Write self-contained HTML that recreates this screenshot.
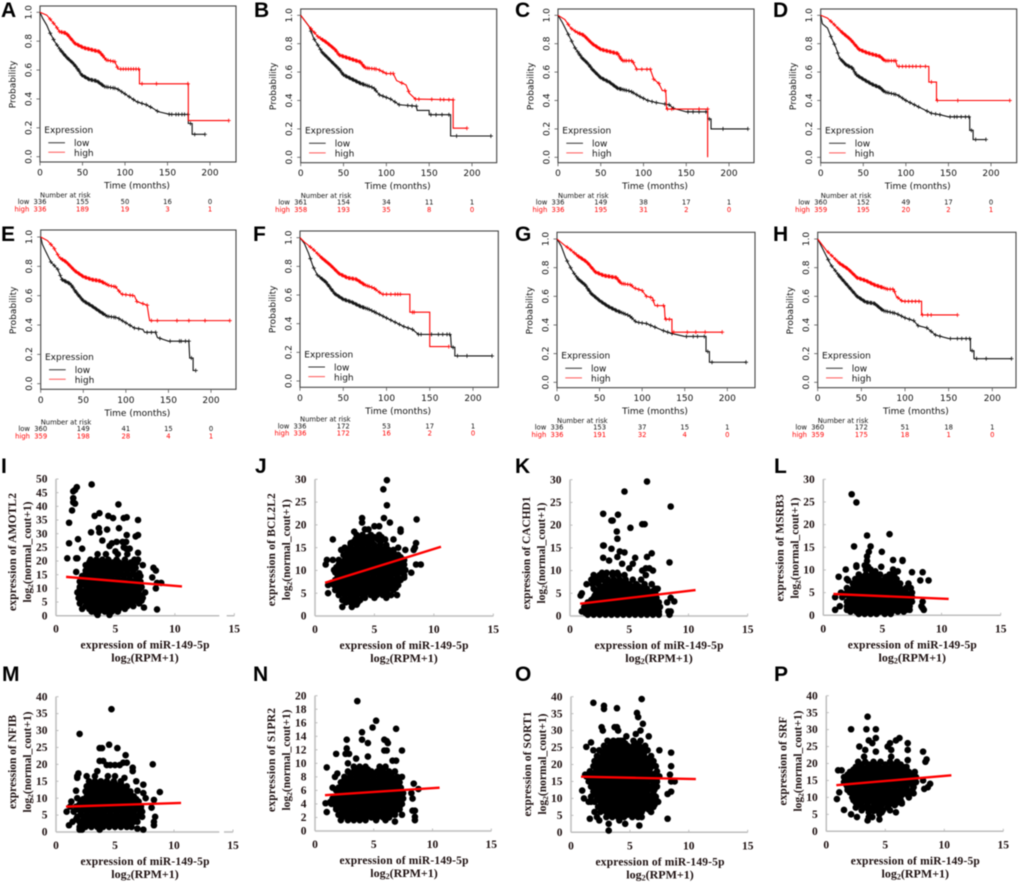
<!DOCTYPE html>
<html lang="en">
<head>
<meta charset="utf-8">
<title>Survival curves and miR-149-5p correlation panels</title>
<style>
html,body{margin:0;padding:0;background:#fff;}
#figure{display:block;width:1020px;height:883px;filter:blur(0.5px);}
.km{font-family:"DejaVu Sans","Liberation Sans",sans-serif;font-size:9px;fill:#111;}
.sc{font-family:"Liberation Serif",serif;font-weight:bold;fill:#1d1010;}
.letter{font-family:"Liberation Sans",sans-serif;font-weight:bold;font-size:21px;fill:#000;}
</style>
</head>
<body>
<svg id="figure" width="1020" height="883" viewBox="0 0 1020 883"></svg>
<script>
// ---------- Kaplan-Meier data: [month, survival probability] ----------
const lowA=[[0,1],[3,.96],[8,.91],[12,.855],[18,.79],[24,.74],[31,.69],[39,.647],[44,.61],[49,.566],[58,.535],[67,.524],[76,.485],[90,.473],[102,.427],[114,.38],[125,.36],[133,.335],[139,.312],[153,.293],[174.5,.293],[174.5,.23],[179,.23],[179,.155],[194,.155]];
const highA=[[0,1],[8,.98],[18,.91],[23,.866],[31,.855],[41,.785],[51,.755],[70,.727],[78,.67],[88,.658],[92,.607],[117,.607],[117,.505],[174.5,.505],[174.5,.25],[222,.25]];
const lowB=[[0,1],[5,.96],[10,.92],[15,.84],[25,.74],[35,.68],[45,.62],[50,.58],[60,.55],[70,.52],[85,.49],[92,.44],[105,.41],[115,.37],[135,.36],[136,.33],[150,.33],[150,.30],[175,.30],[175,.15],[222,.15]];
const highB=[[0,1],[10,.92],[20,.85],[30,.81],[40,.76],[45,.72],[60,.69],[70,.67],[75,.63],[90,.62],[100,.59],[108,.59],[112,.54],[123,.51],[127,.45],[134,.41],[178,.405],[178,.205],[194,.205]];
const lowC=[[0,1],[5,.95],[10,.89],[15,.83],[20,.77],[28,.70],[35,.66],[40,.62],[50,.56],[60,.53],[70,.485],[85,.465],[95,.43],[105,.40],[115,.385],[130,.37],[135,.345],[150,.32],[175,.32],[175,.27],[179,.27],[179,.20],[222,.20]];
const highC=[[0,1],[8,.97],[15,.91],[22,.88],[30,.86],[40,.80],[50,.76],[70,.73],[75,.68],[87,.68],[92,.62],[108,.62],[112,.55],[118,.52],[122,.47],[126,.47],[127,.34],[175,.34],[175,0]];
const lowD=[[0,1],[2,.94],[8,.91],[12,.85],[18,.77],[22,.70],[30,.65],[37,.63],[42,.58],[50,.55],[60,.515],[70,.49],[75,.46],[90,.44],[100,.40],[110,.37],[120,.34],[130,.31],[140,.30],[150,.285],[175,.285],[175,.19],[179,.19],[179,.125],[194,.125]];
const highD=[[0,1],[8,.98],[15,.94],[25,.88],[35,.83],[45,.76],[55,.735],[70,.71],[75,.68],[88,.68],[90,.64],[127,.64],[127,.53],[136,.53],[136,.40],[222,.40]];
const lowE=[[0,1],[2,.95],[6,.90],[12,.83],[20,.78],[25,.71],[35,.68],[42,.62],[50,.565],[60,.53],[70,.49],[78,.46],[90,.45],[100,.415],[110,.38],[120,.37],[122,.35],[135,.35],[137,.315],[150,.29],[174,.29],[175,.175],[179,.175],[179,.09],[182,.09]];
const highE=[[0,1],[8,.975],[15,.93],[22,.86],[30,.83],[40,.77],[50,.73],[60,.71],[70,.70],[80,.67],[88,.66],[95,.61],[110,.60],[113,.56],[125,.535],[127,.46],[128,.43],[222,.43]];
const lowF=[[0,1],[5,.96],[10,.89],[15,.80],[20,.74],[30,.69],[40,.61],[50,.57],[60,.55],[70,.52],[80,.50],[90,.47],[100,.44],[110,.41],[120,.38],[130,.36],[137,.325],[174,.325],[175,.235],[179,.235],[179,.175],[222,.175]];
const highF=[[0,1],[5,.97],[15,.92],[25,.86],[35,.81],[45,.75],[55,.72],[65,.71],[75,.67],[85,.65],[95,.605],[127,.605],[127,.48],[150,.48],[150,.24],[172,.24]];
const lowG=[[0,1],[5,.95],[10,.87],[15,.81],[20,.76],[25,.72],[33,.68],[40,.62],[50,.57],[60,.53],[70,.50],[85,.465],[93,.42],[105,.41],[115,.385],[125,.36],[135,.34],[150,.32],[175,.32],[175,.215],[179,.215],[179,.14],[222,.14]];
const highG=[[0,1],[8,.96],[15,.93],[25,.88],[35,.84],[45,.77],[55,.745],[70,.73],[75,.69],[87,.68],[90,.66],[100,.64],[105,.60],[112,.59],[115,.535],[126,.535],[127,.44],[135,.44],[135,.35],[194,.35]];
const lowH=[[0,1],[5,.94],[10,.88],[15,.82],[25,.74],[35,.67],[45,.60],[55,.56],[65,.55],[75,.50],[90,.48],[100,.45],[110,.43],[115,.395],[125,.38],[135,.33],[150,.305],[175,.305],[175,.22],[179,.22],[179,.165],[222,.165]];
const highH=[[0,1],[5,.96],[10,.92],[20,.86],[25,.83],[35,.79],[45,.73],[55,.71],[65,.68],[80,.65],[87,.65],[90,.60],[97,.565],[119,.565],[119,.47],[160,.47]];

// censoring months (shared early part, then panel-specific tails)
const earlyCensorMonths=[12,16,20,23,25,26,28,29,30,32,33,34,36,37,38,40,41,42,44,45,46,48,49,50,52,53,54,56,57,58,60,61,62,64,65,66,68,69,70,72,73,74,76,78,80,83,86,88];
const lowCensorA=[92,96,100,105,110,115,120,125,130,138,152,155,160,163,167,170,174,177,182,194];
const highCensorA=[91,95,98,101,104,107,110,113,116,120,137,174,222];
const lowCensorB=[92,96,100,105,110,115,125,130,135,152,158,165,173,182,222];
const highCensorB=[92,96,100,105,108,118,126,134,138,153,163,167,173,178,194];
const lowCensorC=[92,96,100,105,110,115,125,130,135,152,158,165,173,177,193,222];
const highCensorC=[92,98,104,108,112,118,125,128,133,165,175];
const lowCensorD=[92,96,100,105,110,115,125,130,135,140,152,157,160,165,170,174,177,182,194];
const highCensorD=[92,96,100,104,108,112,117,123,130,137,161,222];
const lowCensorE=[92,96,100,105,110,115,125,130,135,140,152,163,165,170,174,177,182];
const highCensorE=[92,96,100,105,108,113,120,125,130,137,160,174,193,222];
const lowCensorF=[92,96,100,105,110,115,120,125,130,137,140,152,160,165,170,173,177,182,193,222];
const highCensorF=[92,96,100,105,110,113,116,130,132,172];
const lowCensorG=[92,96,100,105,110,115,125,130,135,152,160,165,173,177,182,222];
const highCensorG=[92,96,100,105,110,113,118,125,128,132,137,153,163,174,194];
const lowCensorH=[92,96,100,105,110,115,125,130,135,140,152,160,165,170,174,177,182,193,222];
const highCensorH=[92,96,100,104,108,112,116,120,126,130,160];

// number at risk
const riskLowA=[336,155,50,16,0], riskHighA=[336,189,19,3,1];
const riskLowB=[361,154,34,11,1], riskHighB=[358,193,35,8,0];
const riskLowC=[336,149,38,17,1], riskHighC=[336,195,31,2,0];
const riskLowD=[360,152,49,17,0], riskHighD=[359,195,20,2,1];
const riskLowE=[360,149,41,15,0], riskHighE=[359,198,28,4,1];
const riskLowF=[336,172,53,17,1], riskHighF=[336,172,16,2,0];
const riskLowG=[336,153,37,15,1], riskHighG=[336,191,32,4,0];
const riskLowH=[360,172,51,18,1], riskHighH=[359,175,18,1,0];
const kmTimeTicks=[0,50,100,150,200];
const kmProbTicks=[0,0.2,0.4,0.6,0.8,1];

// ---------- Scatter data: each row = [y, x, x, x ...] ----------
const samplesI=[[48,3],[47,1.75],[46,1.6],[45.5,1.45],[43,1.45],[41.5,1.45],[41,1.6],[40.7,5.25],[38.5,1.35],[37.5,3.65],[36.5,3.25,4.4],[36,5.95],[35.7,4.8,5.7],[35,6.9],[34,1.1],[32,3.6,5.3],[31.5,4.3],[30.5,2.95,3.65],[29.5,5.95,6.9],[29,6.7],[28,1.85],[27.5,3.9],[27,5.1,5.6,5.9],[26.5,1.1,4.7],[25.5,4.5],[25,5.7],[24.5,2.2,5.9,6.2],[23.5,5],[23,6.9],[22.5,3.5,4.2,5.2,6],[21,0.95,1.7,1.8],[20.5,2.9,3.4,3.9,4.4,5.1,5.8,6.6,6.9],[18.5,2.5,3,3.5,4,4.5,5,5.5,6,6.5,7.3],[17.5,8.2],[16.5,2.5,3,3.5,4,4.5,5,5.5,6,6.5,8.4],[16,1.7],[14.5,2.2,2.7,3.2,3.7,4.2,4.7,5.2,5.7,6.2,6.7,7.1],[14,8.1],[12.5,2,2.5,3,3.5,4,4.5,5,5.5,6,6.5,7.1],[12,8.5,8.85],[10.5,2,2.6,3.1,3.6,4.1,4.6,5.1,5.6,6.1,6.6,7.2],[10,8.4],[8.5,1.8,2.3,2.8,3.3,3.8,4.3,4.8,5.3,5.8,6.3,6.8,7.5],[6.5,1.9,2.4,2.9,3.4,3.9,4.4,4.9,5.4,5.9,6.4,6.9,7.3],[4.5,2,2.6,3.1,3.6,4.1,4.6,5.1,5.6,6.1,7],[3.5,6.5],[3,7.4],[2.5,2.2,2.8,3.3,3.8,4.3,4.8,5.3,5.8],[2.3,8.5],[1,3.4,4.5],[0.3,3.5,4.5],
 [1.5,3,3.6,4.1,4.7,5.2],[3.5,2.5,3,3.5,4,4.5,5,5.5,6],[5.5,2.2,2.8,3.3,3.8,4.3,4.8,5.3,5.8,6.3,6.7,7.2],[7.5,2.1,2.6,3.1,3.6,4.1,4.6,5.1,5.6,6.1,6.6,7.1],[9.5,2,2.5,3,3.5,4,4.5,5,5.5,6,6.5,7],[11.5,2.3,2.8,3.3,3.8,4.3,4.8,5.3,5.8,6.3,6.8],[13.5,2.2,2.7,3.2,3.7,4.2,4.7,5.2,5.7,6.2,6.8],[15.5,2.5,3,3.5,4,4.5,5,5.5,6,6.5,7],[17.5,2.7,3.2,3.7,4.2,4.7,5.2,5.7,6.2,6.7],[19.5,2.8,3.3,3.8,4.3,4.8,5.3,5.8,6.3,6.8]];
const samplesJ=[[29.8,6.05],[27.8,5.75],[24.3,6.05],[21.5,3.96,5.8],[21.2,8.55],[20.5,3.96,6.3],[19.7,5,5.4],[19,4.2,4.5,7.2],[18.5,3.3,7.2],[17.8,3.5,4,4.7,5.4],[16.8,1.5,3.4,4.1,4.6,5.3,5.9,6.6],[16,3,8.5],[15.6,3,3.5,4,4.5,5,5.5,6],[15,7,8.4],[14.5,2.2,2.7,3.2,3.7,4.2,4.7,5.2,5.7,6.2,6.6,7.6,8.3],[13.4,2.4,2.9,3.4,3.9,4.4,4.9,5.4,5.9,6.4,7],[12.3,1,1.5,2,2.5,3,3.5,4,4.5,5,5.5,6,6.5,7,7.5],[11.3,0.9,2,2.5,3,3.5,4,4.5,5,5.5,6,6.5,7,7.5,8.5,8.9],[10.1,1.6,2.1,2.6,3.1,3.6,4.1,4.6,5.1,5.6,6.1,6.6,7.1,7.6],[9.5,8.1],[9,1.9,2.4,2.9,3.4,3.9,4.4,4.9,5.4,5.9,6.4,6.9,7.5],[7.9,1.7,2.2,2.7,3.2,3.7,4.2,4.7,5.2,5.7,6.2,6.7,7.2],[6.8,1.1,1.6,2.1,2.6,3.1,3.6,4.1,4.6,5.1,5.6,6.1,6.6,7],[5.7,1.7,2.1,2.6,3.1,3.6,4.1,4.6,5.1,5.6,6.1,6.6],[5,1.1],[4.6,2,2.5,3,3.5,4,4.7,5.2,5.7,6.4,6.9],[3.5,2.3,2.8,3.3,3.8],[2.5,3.2,3.5],[2,2.3,3.1],
 [3,2.6,3,3.6],[4,2.5,3,3.5,4.2,5,6],[5.1,2.3,2.8,3.3,3.8,4.3,4.9,5.4,6],[6.2,1.9,2.4,2.9,3.4,3.9,4.4,4.9,5.4,5.9,6.4,6.8],[7.3,1.4,1.9,2.4,2.9,3.4,3.9,4.4,4.9,5.4,5.9,6.4,6.9],[8.4,1.9,2.4,2.9,3.4,3.9,4.4,4.9,5.4,5.9,6.4,7,7.5],[9.6,1.7,2.2,2.7,3.2,3.7,4.2,4.7,5.2,5.7,6.2,6.7,7.3],[10.7,1.8,2.3,2.8,3.3,3.8,4.3,4.8,5.3,5.8,6.3,6.8,7.3],[11.8,2.3,2.8,3.3,3.8,4.3,4.8,5.3,5.8,6.3,6.8,7.3],[12.9,2.7,3.2,3.7,4.2,4.7,5.2,5.7,6.2,6.7,7.2],[14,2.7,3.1,3.6,4.1,4.6,5.1,5.6,6.1,6.6],[15,2.5,3,3.5,4,4.5,5,5.5,6],[16.2,3.2,3.8,4.3,4.8,5.5],[17.3,3.7,4.4,5,5.6]];
const samplesK=[[29.6,6.5],[27.4,4.6],[24.1,8.5],[22.5,2.8],[22.3,4.05],[21,3.5,3.6],[20.2,6.1,6.3],[19.4,5.1],[18.6,3.95],[17,4],[15.5,2.8,2.85],[14.8,3.5],[14.2,4.2],[14,4.6],[13.8,6.9],[13,4,6.5],[12.8,2.8,5.5],[12.2,3.3],[11.8,8.4],[11.5,4.4,5.3],[10.5,5,6.4,6.7],[10,6.1,7],[9.5,2.7,3.1,3.6,4],[9,2,2.5,3,3.6,4.1,4.6,6.4],[8,1.8,2.2,2.7,3.2,3.7,4.2,4.7,5.3,6],[7,1.4,1.9,2.4,3,3.6,4,4.5,5,5.6,6.3,6.9],[6,2,2.5,3,3.5,4,4.5,5,5.5,6,6.5,7.2,7.4],[5,1,2.2,2.7,3.2,3.7,4.2,4.7,5.2,5.7,6.2,6.7,7.2],[4.5,0.9],[4,2,2.5,3,3.5,4,4.5,5,5.5,6,6.5,7,7.3,8.5],[3.2,8.8],[3,1.5,2,2.5,3,3.5,4,4.5,5,5.5,6,6.5,7,7.5,8.2],[2,1.2,1.7,2.2,2.7,3.2,3.7,4.2,4.7,5.2,5.7,6.2,6.7,7.2,7.6],[1,1,1.5,2,2.5,3,3.5,4,4.5,5,5.5,6,6.5,7,7.5,8.3,8.5],[0.3,1.5,2,2.5,3,3.5,4,4.5,5,5.5,6,6.5,7,7.5,8.4],
 [0.7,1.3,1.8,2.3,2.8,3.3,3.8,4.3,4.8,5.3,5.8,6.3,6.8,7.3],[1.5,1.3,1.8,2.3,2.8,3.3,3.8,4.3,4.8,5.3,5.8,6.3,6.8,7.3],[2.5,1.5,2,2.5,3,3.5,4,4.5,5,5.5,6,6.5,7,7.4],[3.5,1.8,2.3,2.8,3.3,3.8,4.3,4.8,5.3,5.8,6.3,6.8,7.3],[4.5,2.1,2.6,3.1,3.6,4.1,4.6,5.1,5.6,6.1,6.6,7.1],[5.5,2.4,2.9,3.4,3.9,4.4,4.9,5.4,5.9,6.4,7],[6.5,2.8,3.3,3.8,4.3,4.8,5.3,5.8],[7.5,2.1,3,3.5,4.1,4.7]];
const samplesL=[[26.7,2.4],[24.9,2.8],[17.9,5.6],[17.6,3.7],[15.2,2.6,4],[14,3.85,4.95],[13,3.7],[12.2,5.9,6.7],[12,3.7,6.7],[11,2.8,3.5],[10.7,2.8,4.9,3.8],[10.1,1.9,3.6,4,5.9],[9.7,6.3,4.4],[9.5,7.5,8.4],[9,3,3.6,4.1,4.8,5.6,6],[8.5,1.3],[8,2,2.7,3.2,3.7,4.2,4.7,5.2,5.7,6.2],[7.7,2.1,8.2,8.9],[7,2.5,3,3.5,4,4.5,5,5.5,6,6.5,7.2],[6,2,2.5,3,3.5,4,4.5,5,5.5,6,6.5,7,7.4],[5,1.5,2,2.5,3,3.5,4,4.5,5,5.5,6,6.5,7,7.5],[4,1,1.6,2.2,2.7,3.2,3.7,4.2,4.7,5.2,5.7,6.2,6.7,7.2,7.5],[3,2,2.5,3,3.5,4,4.5,5,5.5,6,6.5,7,7.5,8.4],[2,1.4,2,2.5,3,3.5,4,4.5,5,5.5,6,6.5,7,7.3,8.3],[1.2,1,2,2.5,3,3.5,4,4.5,5,5.5,6,6.5,7,7.3,8.5],[0.3,3,3.5,4,4.5,5.2,5.7],
 [0.8,2.3,2.8,3.3,3.8,4.3,4.8,5.3,5.8,6.3,6.8],[1.6,2.3,2.8,3.3,3.8,4.3,4.8,5.3,5.8,6.3,6.8,8.4],[2.5,2.3,2.8,3.3,3.8,4.3,4.8,5.3,5.8,6.3,6.8,7.2],[3.5,2.3,2.8,3.3,3.8,4.3,4.8,5.3,5.8,6.3,6.8,7.3],[4.5,1.8,2.3,2.8,3.3,3.8,4.3,4.8,5.3,5.8,6.3,6.8,7.3],[5.5,2.3,2.8,3.3,3.8,4.3,4.8,5.3,5.8,6.3,6.8],[6.5,2.8,3.3,3.8,4.3,4.8,5.3,5.8,6.3],[7.5,3,3.5,4,4.5,5,5.5],[8.5,3.3,3.9,4.5,5.3,5.8]];
const samplesM=[[36.3,4.7],[29,2],[25.8,4.5],[24.8,3.7,3.9,5.2],[22.7,5.9],[21,3.7,4],[20.5,5.7,6],[20,8.2],[19.8,4.3,4.6,5,5.4],[19,6.5],[18,3.5,6.5],[17.3,1.9],[16.5,1.8,2.6,3.3,4.4,5],[16,1.8,5.8],[15,2.8,3.3,3.8,4.3,4.9,5.5,6.8],[14,7.4],[13.5,2.6,3.1,3.6,4.1,4.6,5.1,5.6,6],[12.2,1.7,6.9],[12,2.5,3,3.5,4,4.5,5,5.5,6,6.3],[11.8,8.8],[11.5,7.4],[10.5,2.6,3.1,3.6,4.1,4.6,5.1,5.6,6.1,6.6],[10,1.8,7.6],[9.5,8.3],[9,1.3,2.1,2.6,3.1,3.6,4.1,4.6,5.1,5.6,6.1,6.6,7],[7.5,1.2,1.7,2.3,2.8,3.3,3.8,4.3,4.8,5.3,5.8,6.3,6.8,7.2],[7.2,8.1],[6,0.9,1.5,2.1,2.6,3.1,3.6,4.1,4.6,5.1,5.6,6.1,6.6,7.3],[4.5,1.8,2.4,2.9,3.4,3.9,4.4,4.9,5.4,5.9,6.4,6.9,7.3,8.4],[3,1.4,2,2.6,3.1,3.6,4.1,4.6,5.1,5.6,6.1,6.6,6.9,8.3],[2,1.1,8.3],[1.5,2,2.5,3,3.5,4,4.5,5,5.5,6,6.4],[1,6.9],[0.7,2,2.2,3.7,7.4],
 [2.2,2.3,2.8,3.3,3.8,4.3,4.8,5.3,5.8,6.3],[3.7,1.7,2.3,2.8,3.3,3.8,4.3,4.8,5.3,5.8,6.3,6.8],[5.2,2.1,2.6,3.1,3.6,4.1,4.6,5.1,5.6,6.1,6.6,7.1],[6.7,1.8,2.3,2.8,3.3,3.8,4.3,4.8,5.3,5.8,6.3,6.8,7.2],[8.2,2,2.5,3,3.5,4,4.5,5,5.5,6,6.5,7],[9.7,2.3,2.8,3.3,3.8,4.3,4.8,5.3,5.8,6.3,6.8],[11.2,2.8,3.3,3.8,4.3,4.8,5.3,5.8,6.3],[12.7,2.8,3.3,3.8,4.3,4.8,5.3,5.8],[14.2,2.9,3.5,4,4.5,5,5.5]];
const samplesN=[[19.2,3.6],[16.3,5.2],[15.3,4.9],[15.1,6.9],[14.6,4],[13.5,2.7,4,5.9],[13.3,6.1],[13,4.5,6.2],[12.2,2.7],[11.9,5.9,6.1,7.4],[11.4,1.8,2.6,2.9],[11,4.5],[10.7,3.5],[10.4,6.6,6.9],[10,2.8],[9.5,3.3,3.8,4.3,5.5,6],[9.4,1],[8.8,2.8,3.3,3.8,4.3,4.8,5.3,5.8,6.3,6.8],[8.5,1.9],[8,1.7,2.5,3,3.5,4,4.5,5,5.5,6,6.5,7,7.4],[7.2,2.2,2.7,3.2,3.7,4.2,4.7,5.2,5.7,6.2,6.7,7.2],[7,8.4],[6.4,1.5,2,2.5,3,3.5,4,4.5,5,5.5,6,6.5,7,7.3],[6.2,8.8],[5.6,2.1,2.6,3.1,3.6,4.1,4.6,5.1,5.6,6.1,6.6,7.1,7.5,8.2],[4.8,1.5,2.1,2.6,3.1,3.6,4.1,4.6,5.1,5.6,6.1,6.6,7.1,7.5,8.3],[4.3,1.3],[4.1,0.9],[4,1.4,2,2.5,3,3.5,4,4.5,5,5.5,6,6.5,7,7.4],[3.2,1.8,2.3,2.8,3.3,3.8,4.3,4.8,5.3,5.8,6.3,6.8,7.2],[3,8.3,8.5],[2.8,1],[2.4,2,2.5,3,3.5,4,4.5,5,5.5,6,6.4,6.8,7.4],[2.1,8.5],[1.6,2.2,2.8,3.3,3.8,4.3,5.2,6,8.5],[1.4,6.8],
 [2,2.3,2.8,3.3,3.8,4.3,4.8,5.3,5.8,6.3],[2.8,2.3,2.8,3.3,3.8,4.3,4.8,5.3,5.8,6.3,6.8],[3.6,1.8,2.3,2.8,3.3,3.8,4.3,4.8,5.3,5.8,6.3,6.8,7.2],[4.4,1.8,2.3,2.8,3.3,3.8,4.3,4.8,5.3,5.8,6.3,6.8,7.3],[5.2,1.9,2.4,2.9,3.4,3.9,4.4,4.9,5.4,5.9,6.4,6.9,7.4],[6,1.8,2.3,2.8,3.3,3.8,4.3,4.8,5.3,5.8,6.3,6.8,7.3],[6.8,2.3,2.8,3.3,3.8,4.3,4.8,5.3,5.8,6.3,6.8],[7.6,2.5,3,3.5,4,4.5,5,5.5,6,6.5,7],[8.4,3,3.5,4,4.5,5,5.5,6,6.5],[9.1,3.5,4,4.5,5.7]];
const samplesO=[[39.3,6],[38.2,1.9],[37.3,2.8],[36.6,3.9],[36.4,2.8],[35.2,5.6],[34,5.7],[32,6.1],[31,2.6,3.7,3.9],[30,2.7,4,5.9],[29,5.5],[28.3,4.7,6.6],[27,3.1,3.6,4,4.2,4.4,5.3,5.9],[26.5,1.7],[25.5,2.8,3.3,3.8,4.3,4.8,5.3,5.8,6.3],[25.2,1.3],[24.2,1.9,2.4,2.9,3.4,3.9,4.4,4.9,5.4,5.9,6.5,7.5],[23.5,8.5],[22.5,2.2,2.7,3.2,3.7,4.2,4.7,5.2,5.7,6.2,6.8],[21,2,2.5,3,3.5,4,4.5,5,5.5,6,6.5,7],[19.5,1.9,2.4,2.9,3.4,3.9,4.4,4.9,5.4,5.9,6.4,6.9,7.2,8.5],[18,1.6,2.1,2.6,3.1,3.6,4.1,4.6,5.1,5.6,6.1,6.6,7.3],[17,1.2,1.4,8.4],[16.5,1.3,1.8,2.3,2.8,3.3,3.8,4.3,4.8,5.3,5.8,6.3,6.8,7.5],[15,1.5,2,2.5,3,3.5,4,4.5,5,5.5,6,6.5,7,7.3,8.5,8.8],[13.5,1.7,2.2,2.7,3.2,3.7,4.2,4.7,5.2,5.7,6.2,6.7,7.3],[12.3,0.95],[12,1.9,2.4,2.9,3.4,3.9,4.4,4.9,5.4,5.9,6.4,7,8.5],[11.3,8.2],[10.5,1.7,2.3,2.8,3.3,3.8,4.3,4.8,5.3,5.8,6.3,6.8,7.2],[10,1.1],[9,1.5,1.7,2,2.5,3,3.5,4,4.5,5,5.5,6,6.5,7,7.4],[7.5,2.3,2.8,3.3,3.8,4.3,4.8,5.3,5.8,6.3,7],[6,2,2.5,3,3.5,4,4.5,5,5.5,6,6.8],[4.5,2.2,3,3.5,4,4.5,5.2,5.7,6],[4,1.6,8.2],[3.5,2.4,4.1],[2.5,3.2,4.6],[2,5.8],[0.5,3.2],
 [5.2,3.2,3.8,4.3,4.8,5.4,5.9],[6.7,2.6,3.1,3.6,4.1,4.6,5.1,5.6,6.1,6.6],[8.2,2.6,3.1,3.6,4.1,4.6,5.1,5.6,6.1,6.6,7.1],[9.7,2.2,2.7,3.2,3.7,4.2,4.7,5.2,5.7,6.2,6.7,7.2],[11.2,2,2.5,3,3.5,4,4.5,5,5.5,6,6.5,7],[12.7,2.1,2.6,3.1,3.6,4.1,4.6,5.1,5.6,6.1,6.6,7.1],[14.2,1.9,2.4,2.9,3.4,3.9,4.4,4.9,5.4,5.9,6.4,7],[15.7,1.7,2.2,2.7,3.2,3.7,4.2,4.7,5.2,5.7,6.2,6.7,7.2],[17.2,2,2.5,3,3.5,4,4.5,5,5.5,6,6.5,7],[18.7,2.2,2.7,3.2,3.7,4.2,4.7,5.2,5.7,6.2,6.7],[20.2,2.2,2.7,3.2,3.7,4.2,4.7,5.2,5.7,6.2,6.7],[21.7,2.5,3,3.5,4,4.5,5,5.5,6,6.5],[23.2,2.7,3.2,3.7,4.2,4.7,5.2,5.7,6.2],[24.7,3.1,3.6,4.1,4.6,5.1,5.6,6.1],[26.2,3.5,4,4.6,5.5]];
const samplesP=[[33.8,3.5],[30.1,2.1,3.4,4.2],[27.5,4.2,6.2],[26.8,3.6,5.9],[26,3.9,5.4,6.9],[25,2.8,5.2],[24,3.3,5.5,6.9],[23.5,4.2,8.2],[22,3.2,5.5],[21.2,8.5],[21,6.9],[20.5,2.7,3.3,4,4.6,5.4,6,8.4],[19,2.5,3,3.5,4,4.5,5,5.5,6,6.5,6.8],[18,1,1.3],[17.5,2,2.5,3,3.5,4,4.5,5,5.5,6,6.5,7,7.5],[16,1.5,2.1,2.6,3.1,3.6,4.1,4.6,5.1,5.6,6.1,6.6,7.1,7.6],[15,8.2],[14.5,1.5,2,2.5,3,3.5,4,4.5,5,5.5,6,6.5,7,7.6],[14,8.8],[13,1.8,2.3,2.8,3.3,3.8,4.3,4.8,5.3,5.8,6.3,6.8,7.4,8.6],[12.5,8.3],[11.5,1.1,2,2.5,3,3.5,4,4.5,5,5.5,6,6.5,7.2],[11.2,7.4],[10,2.2,2.7,3.2,3.7,4.2,4.7,5.2,5.7,6.2,7],[9.5,0.9],[8.5,2.5,3,3.5,4,4.5,5,5.5,6,6.4],[8.2,6.4],[7,2.5,3.3,3.9,4.5,5.2],[6.3,1.5],[6,4],[5.6,3.6,4.7,5.9],[5,2.1,4.5],[4.2,2.6,3.6,3.9],[3.5,4.5],[3.2,3.5],
 [6.2,3,3.6,4.2,4.8,5.4],[7.7,2.9,3.5,4.1,4.7,5.3,5.8],[9.2,2.3,2.8,3.3,3.8,4.3,4.8,5.3,5.8,6.3],[10.7,2.4,2.9,3.4,3.9,4.4,4.9,5.4,5.9,6.4,6.9],[12.2,1.8,2.3,2.8,3.3,3.8,4.3,4.8,5.3,5.8,6.3,6.8,7.3],[13.7,1.7,2.2,2.7,3.2,3.7,4.2,4.7,5.2,5.7,6.2,6.7,7.3],[15.2,1.8,2.3,2.8,3.3,3.8,4.3,4.8,5.3,5.8,6.3,6.8,7.3],[16.7,1.8,2.3,2.8,3.3,3.8,4.3,4.8,5.3,5.8,6.3,6.8,7.3],[18.2,2.3,2.8,3.3,3.8,4.3,4.8,5.3,5.8,6.3,6.8],[19.7,3,3.6,4.3,5,5.6,6.3]];

// trend lines: [x, y] at both ends
const trendI=[[0.85,14.2],[10.6,10.7]];
const trendJ=[[0.85,7.3],[10.6,15.2]];
const trendK=[[0.85,2.7],[10.6,5.7]];
const trendL=[[0.85,4.7],[10.6,3.6]];
const trendM=[[0.85,7.5],[10.6,8.6]];
const trendN=[[0.85,5.3],[10.6,6.4]];
const trendO=[[0.85,16.4],[10.6,15.7]];
const trendP=[[0.85,13.6],[10.6,16.5]];

const scatterXTicks=[0,5,10,15];
const ticks50=[0,5,10,15,20,25,30,35,40,45,50];
const ticks40=[0,5,10,15,20,25,30,35,40];
const ticks30=[0,5,10,15,20,25,30];
const ticks20=[0,2,4,6,8,10,12,14,16,18,20];

// ---------- layout ----------
const root=document.getElementById('figure');
const NS=root.namespaceURI;
function make(tag,parent,attrs,text){
  const el=document.createElementNS(NS,tag);
  for(const k in attrs){el.setAttribute(k,attrs[k]);}
  if(text!==undefined){el.textContent=text;}
  parent.appendChild(el);
  return el;
}
function panelLetter(ch,x,y){
  const t=make('text',root,{x:x,y:y,'class':'letter'},ch);
  
  
}
function curveAt(curve,m){
  for(let i=1;i<curve.length;i++){
    const a=curve[i-1],b=curve[i];
    if(m<=b[0]){
      if(b[0]===a[0]){return a[1];}
      return a[1]+(b[1]-a[1])*(m-a[0])/(b[0]-a[0]);
    }
  }
  return null;
}
function drawCurve(g,curve,censor,color,xs,ys,key){
  const path=make('path',g,{d:curve.map((p,i)=>(i?'L':'M')+xs(p[0]).toFixed(2)+' '+ys(p[1]).toFixed(2)).join(''),fill:'none',stroke:color,'stroke-width':1.1});
  
  
  censor.forEach(function(m){
    const s=curveAt(curve,m);
    if(s===null){return;}
    const cx=xs(m),cy=ys(s);
    const mark=make('path',g,{d:'M'+(cx-2)+' '+cy+'h4M'+cx+' '+(cy-2)+'v4',stroke:color,'stroke-width':0.9,opacity:0.9});
    
    
  });
}
function drawKM(id,f,low,high,lowCensor,highCensor,riskLow,riskHigh){
  const g=make('g',root,{'class':'km'});
  
  
  const xs=m=>f.left+m*(f.x200-f.left)/200;
  const ys=p=>f.y0-p*(f.y0-f.y1);
  const box=make('rect',g,{x:f.left,y:f.top,width:f.right-f.left,height:f.bottom-f.top,fill:'none',stroke:'#444','stroke-width':1.1});
  
  
  kmTimeTicks.forEach(function(v){
    const tk=make('line',g,{x1:xs(v),x2:xs(v),y1:f.bottom,y2:f.bottom+3.5,stroke:'#555','stroke-width':0.8});
    
    
    const lb=make('text',g,{x:xs(v),y:f.bottom+13.5,'text-anchor':'middle'},String(v));
    
    
  });
  kmProbTicks.forEach(function(v){
    const tk=make('line',g,{x1:f.left-3.5,x2:f.left,y1:ys(v),y2:ys(v),stroke:'#555','stroke-width':0.8});
    
    
    const lb=make('text',g,{transform:'translate('+(f.left-8.7)+' '+ys(v)+') rotate(-90)','text-anchor':'middle'},v.toFixed(1));
    
    
  });
  const yt=make('text',g,{transform:'translate('+(f.left-24.7)+' '+((f.y0+f.y1)/2)+') rotate(-90)','text-anchor':'middle'},'Probability');
  
  
  const xt=make('text',g,{x:(f.left+f.right)/2-1,y:f.bottom+26.5,'text-anchor':'middle'},'Time (months)');
  
  
  drawCurve(g,low,earlyCensorMonths.concat(lowCensor),'#111',xs,ys,'low');
  drawCurve(g,high,earlyCensorMonths.concat(highCensor),'#f00',xs,ys,'high');
  // legend
  const lx=f.left+4.3,ly=f.y0;
  const lt=make('text',g,{x:lx,y:ly-23.7},'Expression');
  
  
  const l1=make('line',g,{x1:f.left+8.3,x2:f.left+25,y1:ly-14,y2:ly-14,stroke:'#333','stroke-width':1});
  
  
  const l2=make('line',g,{x1:f.left+8.3,x2:f.left+25,y1:ly-4.4,y2:ly-4.4,stroke:'#f55','stroke-width':1});
  
  
  const t1=make('text',g,{x:f.left+34,y:ly-10.7},'low');
  
  
  const t2=make('text',g,{x:f.left+34,y:ly-0.7},'high');
  
  
  // risk table
  const hd=make('text',g,{x:f.left,y:f.y0+40.6,'font-size':6.8},'Number at risk');
  
  
  const rl=make('text',g,{x:f.left-10.7,y:f.y0+47.3,'font-size':6.8,'text-anchor':'end'},'low');
  
  
  const rh=make('text',g,{x:f.left-10.7,y:f.y0+54.6,'font-size':6.8,'text-anchor':'end',style:'fill:#f00'},'high');
  
  
  kmTimeTicks.forEach(function(v,i){
    const a=make('text',g,{x:xs(v),y:f.y0+47.3,'font-size':6.8,'text-anchor':'middle'},String(riskLow[i]));
    
    
    const b=make('text',g,{x:xs(v),y:f.y0+54.6,'font-size':6.8,'text-anchor':'middle',style:'fill:#f00'},String(riskHigh[i]));
    
    
  });
}
function drawScatter(id,f,gene,samples,trend,yTicks,yLen){
  const g=make('g',root,{'class':'sc'});
  
  
  const yMax=yTicks[yTicks.length-1];
  const xs=v=>f.x0+v*(f.x15-f.x0)/15;
  const ys=v=>f.y0-v*(f.y0-f.yTop)/yMax;
  const yAxis=make('line',g,{x1:f.x0,x2:f.x0,y1:f.yTop,y2:f.y0,stroke:'#bdbdbd','stroke-width':1.5});
  
  
  const xAxis=make('line',g,{x1:f.x0,x2:f.x15,y1:f.y0,y2:f.y0,stroke:'#bdbdbd','stroke-width':1.5});
  
  
  if(f.gap){
    const br=make('rect',g,{x:f.gap[0],y:f.y0-2,width:f.gap[1]-f.gap[0],height:4,fill:'#fff'});
    
    
  }
  scatterXTicks.forEach(function(v){
    const tk=make('line',g,{x1:xs(v),x2:xs(v),y1:f.y0-2.5,y2:f.y0,stroke:'#bdbdbd','stroke-width':1});
    
    
    const lb=make('text',g,{x:xs(v),y:f.y0+17,'text-anchor':'middle','font-size':11.5},String(v));
    
    
  });
  yTicks.forEach(function(v){
    const tk=make('line',g,{x1:f.x0,x2:f.x0+2.5,y1:ys(v),y2:ys(v),stroke:'#bdbdbd','stroke-width':1});
    
    
    const lb=make('text',g,{x:f.x0-8.5,y:ys(v)+3.6,'text-anchor':'end','font-size':11.5},String(v));
    
    
  });
  samples.forEach(function(row){
    for(let i=1;i<row.length;i++){
      const dot=make('circle',g,{cx:xs(row[i]).toFixed(2),cy:ys(row[0]).toFixed(2),r:3.3,fill:'#000'});
      
      
    }
  });
  const tr=make('line',g,{x1:xs(trend[0][0]),y1:ys(trend[0][1]),x2:xs(trend[1][0]),y2:ys(trend[1][1]),stroke:'#f00','stroke-width':2.4});
  
  
  const y1=make('text',g,{transform:'translate('+(f.x0-40)+' '+f.yMid+') rotate(-90)','text-anchor':'middle','font-size':11.5,textLength:yLen,lengthAdjust:'spacing'},'expression of '+gene);
  
  
  const y2=make('text',g,{transform:'translate('+(f.x0-25)+' '+f.yMid+') rotate(-90)','text-anchor':'middle','font-size':11.5});
  
  
  make('tspan',y2,{},'log');
  make('tspan',y2,{'font-size':7.5,dy:2},'2');
  make('tspan',y2,{dy:-2},'(normal_cout+1)');
  const x1=make('text',g,{x:f.x0+89,y:f.y0+33,'text-anchor':'middle','font-size':11.5,textLength:129,lengthAdjust:'spacing'},'expression of miR-149-5p');
  
  
  const x2=make('text',g,{x:f.x0+89,y:f.y0+46,'text-anchor':'middle','font-size':12});
  
  
  make('tspan',x2,{},'log');
  make('tspan',x2,{'font-size':8,dy:2},'2');
  make('tspan',x2,{dy:-2},'(RPM+1)');
}

[['A',1,17],['B',254,17],['C',515,17],['D',773,17],['E',1,241],['F',253,241],['G',515,241],['H',773,241],
 ['I',1,473],['J',255,473],['K',515,473],['L',774,473],['M',2,681],['N',253,681],['O',515,681],['P',774,681]].forEach(function(l){panelLetter(l[0],l[1],l[2]);});

drawKM('a',{left:40,right:236,top:6,bottom:162,x200:210,y1:12.3,y0:156.7},lowA,highA,lowCensorA,highCensorA,riskLowA,riskHighA);
drawKM('b',{left:300.7,right:496.7,top:9,bottom:162.7,x200:472,y1:15.3,y0:157.3},lowB,highB,lowCensorB,highCensorB,riskLowB,riskHighB);
drawKM('c',{left:558,right:754,top:9,bottom:162.7,x200:729,y1:15.3,y0:157.3},lowC,highC,lowCensorC,highCensorC,riskLowC,riskHighC);
drawKM('d',{left:820.7,right:1016.7,top:9,bottom:162.7,x200:991,y1:15.3,y0:157.3},lowD,highD,lowCensorD,highCensorD,riskLowD,riskHighD);
drawKM('e',{left:40.7,right:236,top:230,bottom:389.3,x200:211,y1:237,y0:383.7},lowE,highE,lowCensorE,highCensorE,riskLowE,riskHighE);
drawKM('f',{left:300,right:498.3,top:231,bottom:387.3,x200:473,y1:237.7,y0:381},lowF,highF,lowCensorF,highCensorF,riskLowF,riskHighF);
drawKM('g',{left:557,right:755,top:232.3,bottom:387.7,x200:727.3,y1:239,y0:382.3},lowG,highG,lowCensorG,highCensorG,riskLowG,riskHighG);
drawKM('h',{left:817.7,right:1016,top:232.3,bottom:387.7,x200:992.3,y1:239,y0:382.3},lowH,highH,lowCensorH,highCensorH,riskLowH,riskHighH);

drawScatter('i',{x0:56,x15:234.3,y0:615.7,yTop:479,yMid:552,gap:[219.3,226.7]},'AMOTL2',samplesI,trendI,ticks50,118);
drawScatter('j',{x0:315,x15:493.3,y0:616,yTop:479.3,yMid:549.7},'BCL2L2',samplesJ,trendJ,ticks30,113);
drawScatter('k',{x0:570,x15:747.7,y0:616,yTop:479.7,yMid:553},'CACHD1',samplesK,trendK,ticks30,113);
drawScatter('l',{x0:823.3,x15:1000.7,y0:615.3,yTop:479.3,yMid:548},'MSRB3',samplesL,trendL,ticks30,107);
drawScatter('m',{x0:56,x15:233,y0:832,yTop:696.7,yMid:762,gap:[219.3,224]},'NFIB',samplesM,trendM,ticks40,94);
drawScatter('n',{x0:315,x15:491.3,y0:831,yTop:695.7,yMid:760},'S1PR2',samplesN,trendN,ticks20,104);
drawScatter('o',{x0:571,x15:747.7,y0:832.3,yTop:696.7,yMid:764},'SORT1',samplesO,trendO,ticks40,105);
drawScatter('p',{x0:826.3,x15:1003.3,y0:831.3,yTop:695.7,yMid:761},'SRF',samplesP,trendP,ticks40,89);
</script>
</body>
</html>
